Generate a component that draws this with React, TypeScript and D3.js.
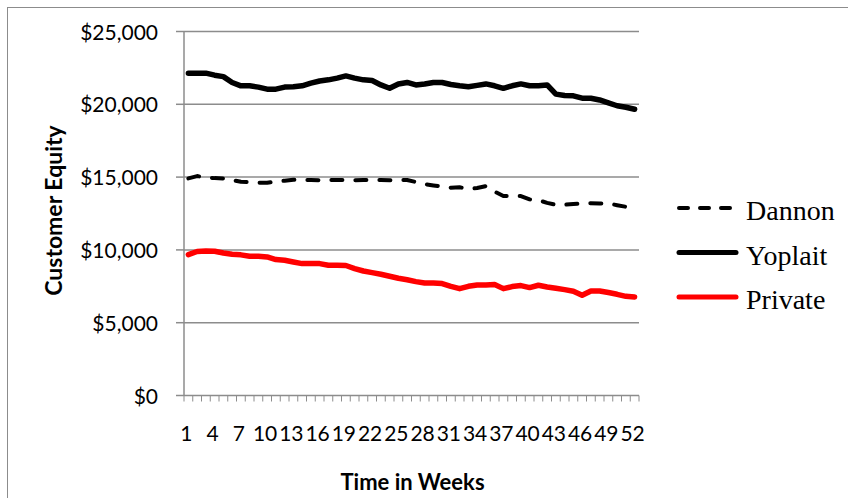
import React, { useEffect, useRef } from 'react';
import * as d3 from 'd3';

const weeks = d3.range(1, 53);
const weekLabels = weeks.filter((w) => (w - 1) % 3 === 0);
const yTicks = [0, 5000, 10000, 15000, 20000, 25000];

const dannon = [
  14910, 15070, 14980, 14930, 14910, 14800, 14680, 14660, 14610, 14610, 14700, 14750, 14820,
  14800, 14800, 14790, 14800, 14800, 14800, 14790, 14800, 14800, 14800, 14790, 14800, 14800,
  14660, 14520, 14430, 14340, 14270, 14300, 14200, 14250, 14380, 14000, 13700, 13700, 13700,
  13470, 13420, 13230, 13100, 13100, 13150, 13190, 13210, 13190, 13190, 13070, 12960, 12820,
];
const yoplait = [
  22140, 22140, 22140, 22000, 21900, 21500, 21270, 21270, 21180, 21040, 21040, 21180, 21200,
  21270, 21450, 21600, 21680, 21800, 21950, 21800, 21680, 21630, 21330, 21100, 21400, 21500,
  21330, 21400, 21500, 21500, 21360, 21270, 21200, 21300, 21400, 21270, 21100, 21270, 21400,
  21270, 21270, 21330, 20700, 20600, 20580, 20420, 20420, 20300, 20100, 19900, 19800, 19660,
];
const privateLabel = [
  9680, 9890, 9930, 9910, 9790, 9700, 9660, 9570, 9570, 9520, 9340, 9290, 9170,
  9060, 9060, 9060, 8950, 8950, 8930, 8720, 8550, 8440, 8330, 8190, 8050, 7950,
  7820, 7730, 7730, 7690, 7500, 7340, 7500, 7590, 7590, 7620, 7340, 7480, 7550,
  7410, 7570, 7450, 7360, 7270, 7160, 6880, 7180, 7180, 7070, 6950, 6810, 6770,
];

const series = [
  { name: 'Dannon', values: dannon, color: '#000', width: 4, dash: '11,13', legendDash: '9,12' },
  { name: 'Yoplait', values: yoplait, color: '#000', width: 5.5, dash: null, legendDash: null },
  { name: 'Private', values: privateLabel, color: '#ff0000', width: 5.5, dash: null, legendDash: null },
];

const W = 848;
const H = 498;
const plot = { left: 184, right: 639, top: 31.5, bottom: 395.5 };
const sansFont = 'Lato, "Open Sans", sans-serif';
const grey = '#8c8c8c';

const App = () => {
  const svgRef = useRef<SVGSVGElement>(null);

  useEffect(() => {
    if (!svgRef.current) return;
    const svg = d3.select(svgRef.current);
    svg.selectAll('*').remove();

    const x = d3.scaleBand<number>().domain(weeks).range([plot.left, plot.right]).paddingInner(0);
    const cx = (w: number) => (x(w) as number) + x.bandwidth() / 2;
    const y = d3.scaleLinear().domain([0, 25000]).range([plot.bottom, plot.top]);

    // outer frame (right and bottom edges fall outside the picture)
    svg.append('rect')
      .attr('x', 7.5).attr('y', 7.5)
      .attr('width', 860).attr('height', 520)
      .attr('fill', 'none').attr('stroke', grey).attr('stroke-width', 1);

    // gridlines
    svg.append('g').selectAll('line')
      .data(yTicks.filter((t) => t > 0))
      .join('line')
      .attr('x1', plot.left).attr('x2', plot.right)
      .attr('y1', (d) => y(d)).attr('y2', (d) => y(d))
      .attr('stroke', grey).attr('stroke-width', 1.5);

    // y axis
    const yAxis = svg.append('g');
    yAxis.append('line')
      .attr('x1', plot.left).attr('x2', plot.left)
      .attr('y1', plot.top).attr('y2', plot.bottom)
      .attr('stroke', grey).attr('stroke-width', 1.5);
    yAxis.selectAll('line.tick')
      .data(yTicks)
      .join('line')
      .attr('class', 'tick')
      .attr('x1', plot.left - 8).attr('x2', plot.left)
      .attr('y1', (d) => y(d)).attr('y2', (d) => y(d))
      .attr('stroke', grey).attr('stroke-width', 1.5);
    yAxis.selectAll('text')
      .data(yTicks)
      .join('text')
      .attr('x', 158)
      .attr('y', (d) => y(d) + 8)
      .attr('text-anchor', 'end')
      .style('font-family', sansFont)
      .style('font-size', '21px')
      .attr('fill', '#000')
      .text((d) => '$' + d3.format(',')(d));

    // x axis
    const xAxis = svg.append('g');
    xAxis.append('line')
      .attr('x1', plot.left).attr('x2', plot.right)
      .attr('y1', plot.bottom).attr('y2', plot.bottom)
      .attr('stroke', grey).attr('stroke-width', 1.5);
    const bounds = weeks.map((w) => x(w) as number).concat([plot.right]);
    xAxis.selectAll('line.tick')
      .data(bounds)
      .join('line')
      .attr('class', 'tick')
      .attr('x1', (d) => d).attr('x2', (d) => d)
      .attr('y1', plot.bottom).attr('y2', plot.bottom + 6)
      .attr('stroke', grey).attr('stroke-width', 1);
    xAxis.selectAll('text')
      .data(weekLabels)
      .join('text')
      .attr('x', (d) => cx(d) - 2)
      .attr('y', 441)
      .attr('text-anchor', 'middle')
      .style('font-family', sansFont)
      .style('font-size', '21px')
      .attr('fill', '#000')
      .text((d) => String(d));

    // axis titles
    svg.append('text')
      .attr('transform', `translate(62,${(plot.top + plot.bottom) / 2 - 3}) rotate(-90)`)
      .attr('text-anchor', 'middle')
      .style('font-family', sansFont)
      .style('font-size', '23px')
      .style('font-weight', 'bold')
      .text('Customer Equity');
    svg.append('text')
      .attr('x', (plot.left + plot.right) / 2 + 1)
      .attr('y', 490)
      .attr('text-anchor', 'middle')
      .style('font-family', sansFont)
      .style('font-size', '22px')
      .style('font-weight', 'bold')
      .text('Time in Weeks');

    // lines
    const line = d3.line<number>()
      .x((d, i) => cx(weeks[i]))
      .y((d) => y(d));

    series.forEach((s) => {
      svg.append('path')
        .datum(s.values)
        .attr('d', line)
        .attr('fill', 'none')
        .attr('stroke', s.color)
        .attr('stroke-width', s.width)
        .attr('stroke-linejoin', 'round')
        .attr('stroke-linecap', 'round')
        .attr('stroke-dasharray', s.dash);
    });

    // legend
    const legend = svg.append('g');
    const legendY = [208, 252.5, 297];
    series.forEach((s, i) => {
      legend.append('line')
        .attr('x1', 679).attr('x2', 736)
        .attr('y1', legendY[i]).attr('y2', legendY[i])
        .attr('stroke', s.color)
        .attr('stroke-width', s.dash ? 4 : 5)
        .attr('stroke-linecap', 'round')
        .attr('stroke-dasharray', s.legendDash);
      legend.append('text')
        .attr('x', 746)
        .attr('y', legendY[i] + 12)
        .style('font-family', '"Liberation Serif", "Times New Roman", serif')
        .style('font-size', '28px')
        .attr('fill', '#000')
        .text(s.name);
    });
  }, []);

  return (
    <svg
      ref={svgRef}
      width={W}
      height={H}
      style={{ position: 'absolute', left: 0, top: 0, background: '#fff' }}
    />
  );
};

export default App;
